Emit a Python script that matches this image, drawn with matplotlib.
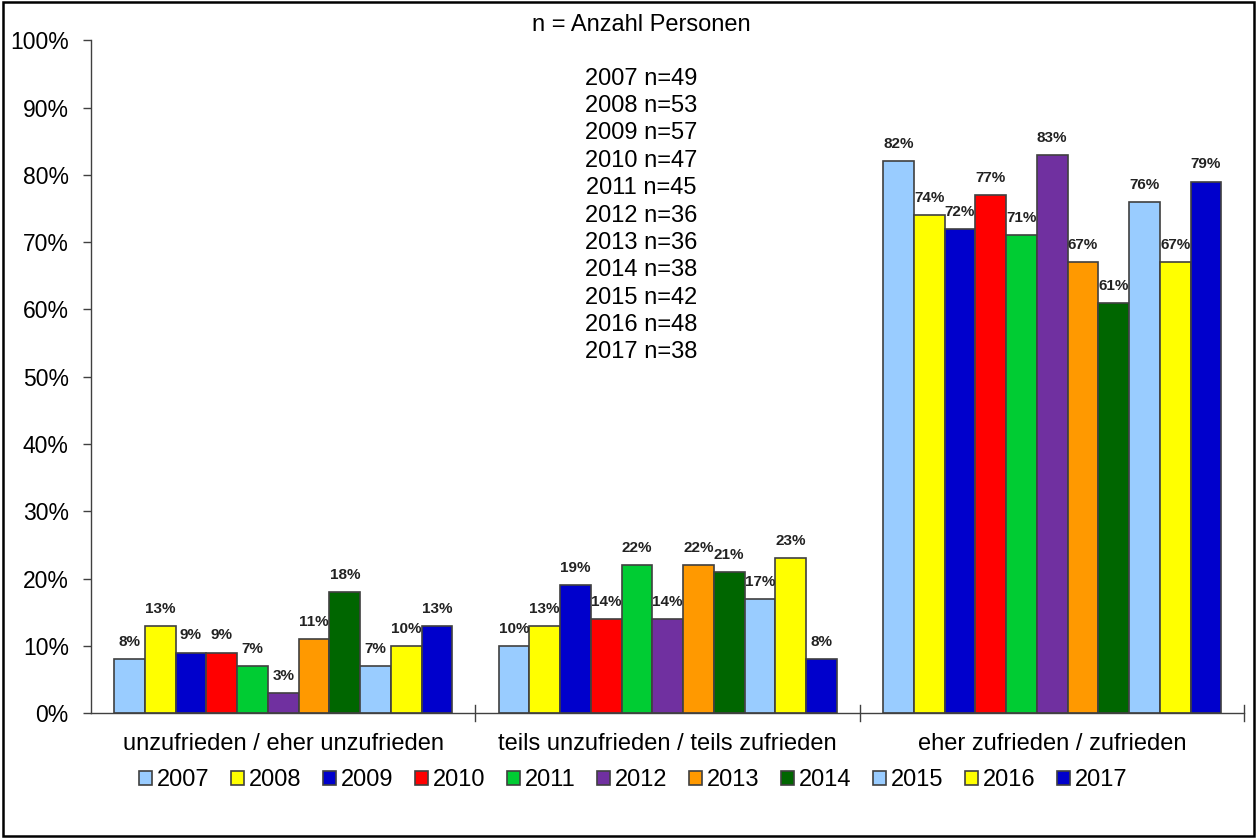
import matplotlib
matplotlib.use("Agg")
import matplotlib.pyplot as plt
import numpy as np
from matplotlib.patches import Rectangle

categories = ["unzufrieden / eher unzufrieden", "teils unzufrieden / teils zufrieden", "eher zufrieden / zufrieden"]
years = ["2007", "2008", "2009", "2010", "2011", "2012", "2013", "2014", "2015", "2016", "2017"]
values = {
    "2007": [8, 10, 82],
    "2008": [13, 13, 74],
    "2009": [9, 19, 72],
    "2010": [9, 14, 77],
    "2011": [7, 22, 71],
    "2012": [3, 14, 83],
    "2013": [11, 22, 67],
    "2014": [18, 21, 61],
    "2015": [7, 17, 76],
    "2016": [10, 23, 67],
    "2017": [13, 8, 79],
}
n_counts = [49, 53, 57, 47, 45, 36, 36, 38, 42, 48, 38]
colors = ["#99CCFF", "#FFFF00", "#0000CC", "#FF0000", "#00CC33", "#7030A0",
          "#FF9900", "#006600", "#99CCFF", "#FFFF00", "#0000CC"]
yticks = [0, 10, 20, 30, 40, 50, 60, 70, 80, 90, 100]

plt.rcParams['font.family'] = ['Liberation Sans', 'DejaVu Sans']

fig = plt.figure(figsize=(12.57, 8.38), dpi=100)
ax = fig.add_axes([0.0724, 0.149, 0.9176, 0.803])

nser = len(years)
bw = 0.08
x = np.arange(len(categories))
for i, yr in enumerate(years):
    pos = x - bw * nser / 2 + bw * (i + 0.5)
    ax.bar(pos, values[yr], width=bw, color=colors[i], edgecolor="#404040",
           linewidth=1.2, label=yr, zorder=2)
    for xp, v in zip(pos, values[yr]):
        ax.text(xp, v + 1.5, f"{v}%", ha="center", va="bottom", fontsize=11,
                fontweight="bold", color="#222222", zorder=4)

ax.set_xlim(-0.5, len(categories) - 0.5)
ax.set_ylim(0, 100)
ax.set_yticks(yticks)
ax.set_yticklabels([f"{t}%" for t in yticks], fontsize=16.5)
ax.set_xticks(x)
ax.set_xticklabels(categories, fontsize=17)
ax.tick_params(axis="x", length=0, pad=14)
for b in np.arange(-0.5, len(categories), 1.0)[1:]:
    ax.plot([b, b], [-1.2, 1.2], color="#404040", lw=1, clip_on=False, zorder=3)
ax.tick_params(axis="y", direction="out", length=6, width=1, pad=10, color="#404040")
ax.spines["top"].set_visible(False)
ax.spines["right"].set_visible(False)
ax.spines["left"].set_linewidth(1)
ax.spines["bottom"].set_linewidth(1)
ax.spines["left"].set_color("#404040")
ax.spines["bottom"].set_color("#404040")

ax.text(0.477, 1.023, "n = Anzahl Personen", transform=ax.transAxes, ha="center",
        va="center", fontsize=17)
for k, (yr, n) in enumerate(zip(years, n_counts)):
    ax.text(0.477, 0.943 - k * 0.0407, f"{yr} n={n}", transform=ax.transAxes,
            ha="center", va="center", fontsize=17)

ax.legend(loc="center", bbox_to_anchor=(0.47, -0.10), ncol=11, frameon=False,
          fontsize=17, handlelength=0.55, handleheight=0.55, handletextpad=0.2,
          columnspacing=0.92)

fig.patches.append(Rectangle((0.002, 0.002), 0.996, 0.996, transform=fig.transFigure,
                             fill=False, edgecolor="black", linewidth=1.8))

fig.savefig("out.png", dpi=100)
